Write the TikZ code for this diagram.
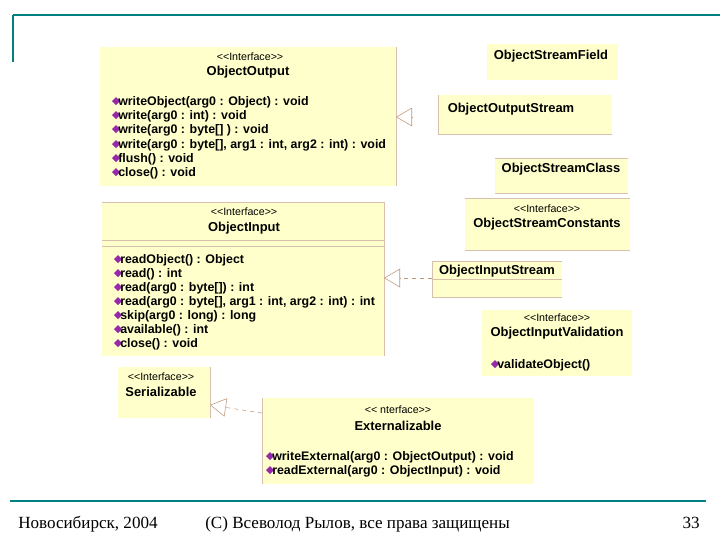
\documentclass[tikz,border=0pt]{standalone}
\usepackage{fontspec}
\setmainfont{Liberation Serif}
\newfontfamily\uml{Liberation Sans}
\usetikzlibrary{arrows.meta}
\definecolor{boxy}{RGB}{255,255,204}
\definecolor{teal1}{RGB}{0,128,128}
\definecolor{edge}{RGB}{190,150,120}
\definecolor{icon}{RGB}{150,40,170}
\tikzset{
  box/.style={fill=boxy,draw=none},
  st/.style={font=\uml\fontsize{8}{8}\selectfont,anchor=center,inner sep=0},
  nm/.style={font=\uml\bfseries\fontsize{9.7}{10}\selectfont,anchor=center,inner sep=0},
  me/.style={font=\uml\bfseries\fontsize{9.3}{10}\selectfont,anchor=west,inner sep=0},
  rel/.style={draw=edge,dashed,thin,-{Triangle[open,length=12pt,width=14pt]}},
  ft/.style={font=\fontsize{12.8}{14}\selectfont,anchor=base west,inner sep=0}
}
\newcommand{\meth}[3]{\fill[icon] (#1-4,#2-1) -- ++(4,-4) -- ++(4,4) -- ++(-4,4) -- cycle;
  \node[me] at (#1+2,#2) {#3};}
\begin{document}
\begin{tikzpicture}[x=0.75pt,y=-0.75pt]
\useasboundingbox (0,0) rectangle (720,540);
\fill[white] (0,0) rectangle (720,540);
% frame lines
\draw[teal1,line width=2pt] (13,15) -- (720,15);
\draw[teal1,line width=2pt] (13,15) -- (13,62);
\draw[teal1,line width=2pt] (10,501) -- (272,501);
\draw[teal1,line width=1.2pt] (272,501) -- (706,501);
% ObjectOutput
\fill[box] (100,47) rectangle (396,186);
\draw[edge!60] (396,47) -- (396,186);
\node[st] (oos) at (250,57) {<<Interface>>};
\node[nm] (oo) at (248,72) {ObjectOutput};
\meth{116}{102}{writeObject(arg0 : Object) : void}
\meth{116}{116}{write(arg0 : int) : void}
\meth{116}{130}{write(arg0 : byte[] ) : void}
\meth{116}{145}{write(arg0 : byte[], arg1 : int, arg2 : int) : void}
\meth{116}{159}{flush() : void}
\meth{116}{173}{close() : void}
\coordinate (ooR) at (396,117);
% ObjectStreamField
\fill[box] (487,44) rectangle (618,80);
\node[nm] (osf) at (551,56) {ObjectStreamField};
% ObjectOutputStream
\fill[box] (438,95) rectangle (612,134);
\draw[edge!60] (438,95) -- (438,134) -- (612,134);
\node[nm] (oost) at (511,109) {ObjectOutputStream};
\coordinate (oostL) at (412,117);
% ObjectStreamClass
\fill[box] (495,158) rectangle (628,193);
\draw[edge!60] (495,158) -- (628,158) (495,193) -- (628,193);
\node[nm] (osc) at (561,169) {ObjectStreamClass};
% ObjectStreamConstants
\fill[box] (465,198) rectangle (630,250);
\draw[edge!60] (465,198) -- (630,198) (465,250) -- (630,250);
\node[st] at (547,209) {<<Interface>>};
\node[nm] (oscn) at (547,224) {ObjectStreamConstants};
% ObjectInput
\fill[box] (102,202) rectangle (384,356);
\draw[edge!60] (102,202) -- (384,202) -- (384,356);
\draw[edge!60] (102,240) -- (384,240) (102,246) -- (384,246);
\node[st] at (244,212) {<<Interface>>};
\node[nm] (oi) at (244,228) {ObjectInput};
\meth{118}{260}{readObject() : Object}
\meth{118}{274}{read() : int}
\meth{118}{288}{read(arg0 : byte[]) : int}
\meth{118}{302}{read(arg0 : byte[], arg1 : int, arg2 : int) : int}
\meth{118}{316}{skip(arg0 : long) : long}
\meth{118}{330}{available() : int}
\meth{118}{344}{close() : void}
\coordinate (oiR) at (384,278);
% ObjectInputStream
\fill[box] (432,261) rectangle (562,297);
\draw[edge!60] (432,261) -- (562,261) (432,279) -- (562,279) (432,297) -- (562,297) (432,261) -- (432,297);
\node[nm] (ois) at (497,271) {ObjectInputStream};
\coordinate (oisL) at (432,278);
% ObjectInputValidation
\fill[box] (482,310) rectangle (632,376);
\node[st] at (557,318) {<<Interface>>};
\node[nm] (oiv) at (557,333) {ObjectInputValidation};
\meth{495}{365}{validateObject()}
% Serializable
\fill[box] (118,367) rectangle (210,418);
\draw[edge!60] (210,367) -- (210,418);
\node[st] at (161,377) {<<Interface>>};
\node[nm] (ser) at (161,392) {Serializable};
\coordinate (serR) at (210,405);
% Externalizable
\fill[box] (262,398) rectangle (534,484);
\draw[edge!60] (262,398) -- (262,484);
\node[st] at (398,410) {<< nterface>>};
\node[nm] (ext) at (398,426) {Externalizable};
\meth{270}{457}{writeExternal(arg0 : ObjectOutput) : void}
\meth{270}{471}{readExternal(arg0 : ObjectInput) : void}
\coordinate (extL) at (262,413);
% relations
\draw[rel] (oostL) -- (ooR);
\draw[rel] (oisL) -- (oiR);
\draw[rel] (extL) -- (serR);
% footer
\node[ft] (f1) at (18,528) {Новосибирск, 2004};
\node[ft] (f2) at (205,528) {(С) Всеволод Рылов, все права защищены};
\node[ft,anchor=base east] (f3) at (700,528) {33};
\end{tikzpicture}
\end{document}
